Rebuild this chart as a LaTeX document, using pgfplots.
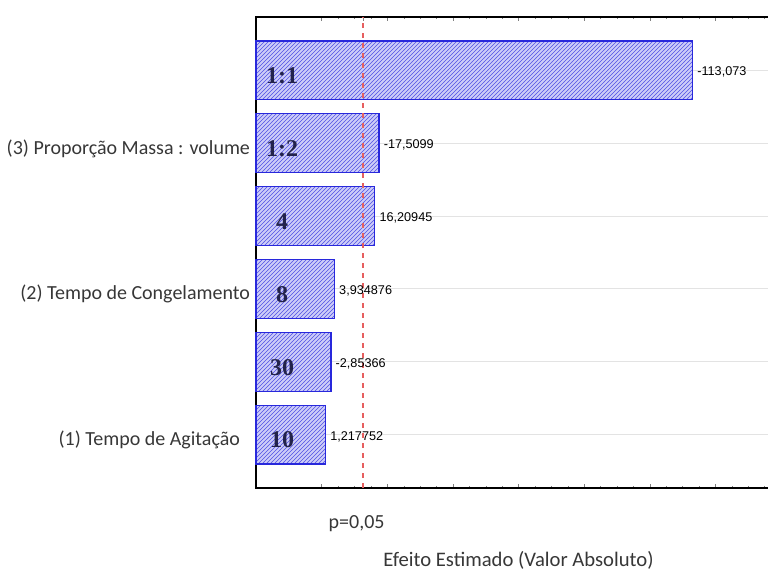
\documentclass[border=0pt]{standalone}
\usepackage{pgfplots}
\pgfplotsset{compat=1.18}
\usepackage{pgfplotstable}
\usepackage{fontspec}
\setmainfont{Carlito}
\newfontfamily\valfont{Liberation Sans}
\newfontfamily\levfont{Liberation Serif}
\usetikzlibrary{patterns}

\definecolor{barline}{RGB}{40,40,220}
\definecolor{barfill}{RGB}{205,205,248}
\definecolor{hatch}{RGB}{80,80,228}
\definecolor{levtext}{RGB}{35,35,75}
\definecolor{labtext}{RGB}{55,55,55}
\definecolor{pline}{RGB}{230,95,95}

% Pareto chart of effects: absolute values, signed labels, factor levels
\pgfplotstableread{
pos val      lab       lev
6   113.073  -113,073  1:1
5   17.5099  -17,5099  1:2
4   16.20945 16,20945  4
3   3.934876 3,934876  8
2   2.85366  -2,85366  30
1   1.217752 1,217752  10
}\effects

\begin{document}
\begin{tikzpicture}
\useasboundingbox (-192pt,-61.5pt) rectangle (384pt,366pt);
\begin{axis}[
  scale only axis,
  width=393.75pt, height=353.25pt,
  at={(0,0)}, anchor=south west,
  xmin=-20, xmax=140,
  ymin=0.27, ymax=6.73,
  % the effect axis starts at -20, bars grow from its left edge
  x coord trafo/.code={\pgfmathparse{#1+20}},
  x coord inv trafo/.code={\pgfmathparse{#1-20}},
  xtick={0,20,...,140}, xticklabels={},
  minor x tick num=3,
  tick align=inside,
  major tick length=3pt, minor tick length=1.5pt,
  extra x ticks={12.706},
  extra x tick labels={p=0{,}05},
  extra x tick style={grid=none,
    xticklabel style={yshift=-17pt, xshift=-5pt, font=\fontsize{15}{17}\selectfont, text=labtext},
  },
  ytick={1,...,6},
  yticklabels={{(1) Tempo de Agitação\kern7.5pt},{},{(2) Tempo de Congelamento},{},{(3) Proporção Massa : volume},{}},
  yticklabel style={font=\fontsize{15}{17}\selectfont, text=labtext, xshift=-1pt, yshift=-4pt},
  ytick style={draw=none},
  ymajorgrids,
  major grid style={gray!22, line width=0.8pt},
  xlabel={Efeito Estimado (Valor Absoluto)},
  xlabel style={at={(axis description cs:0.5,0)}, anchor=center, yshift=-54pt,
    font=\fontsize{15.5}{17}\selectfont, text=labtext},
  axis line style={black, line width=0.8pt},
  clip=false,
]
\addplot[xbar, bar shift=0pt, bar width=44pt,
  draw=barline, line width=1pt, fill=barfill,
  postaction={pattern=north east lines, pattern color=hatch}]
  table[x=val, y=pos]{\effects};
\addplot[xbar, bar shift=0pt, bar width=44pt, draw=none, fill=none,
  nodes near coords, point meta=explicit symbolic,
  nodes near coords style={anchor=west, xshift=0pt, yshift=-1.5pt, text=black,
    font=\valfont\fontsize{9.5}{11}\selectfont}]
  table[x=val, y=pos, meta=lab]{\effects};
\addplot[draw=none, mark=none,
  nodes near coords, point meta=explicit symbolic,
  nodes near coords style={anchor=center, yshift=-4pt, text=levtext,
    font=\levfont\bfseries\fontsize{18}{20}\selectfont}]
  table[x expr=-12, y=pos, meta=lev]{\effects};
% significance limit at p = 0,05
\addplot[pline, solid, no marks, line width=1.3pt, dash pattern=on 4pt off 3.5pt]
  coordinates {(12.706,0.27) (12.706,6.73)};
\end{axis}
\end{tikzpicture}
\end{document}
